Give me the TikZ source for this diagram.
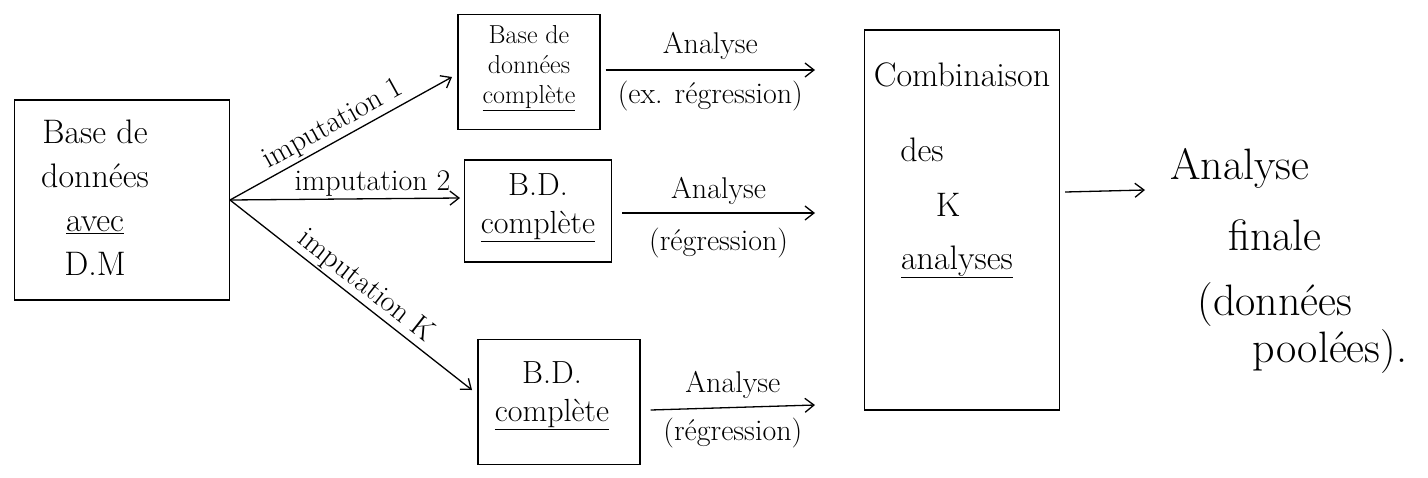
\documentclass[tikz,border=0pt]{standalone}
\usetikzlibrary{arrows.meta}
\begin{document}
\begin{tikzpicture}[x=1pt,y=-1pt,
  box/.style={draw,line width=1.4pt,inner sep=0pt},
  conn/.style={line width=1.3pt,-{Straight Barb[length=9pt,width=14pt,line width=1.3pt]}},
  txt/.style={font=\fontsize{34}{44}\selectfont,align=center},
  lbl/.style={font=\fontsize{30}{34}\selectfont,inner sep=2pt}]
\useasboundingbox (0,0) rectangle (1428,477);
% boxes
\node[box,minimum width=215pt,minimum height=200pt] (A) at (122,200) {};
\node[txt] (At) at (95,198) {Base de\\données\\\underline{avec}\\D.M};
\node[box,minimum width=142pt,minimum height=115pt] (B1) at (529,72) {};
\node[txt,font=\fontsize{26}{30}\selectfont] (B1t) at (529,68) {Base de\\données\\\underline{complète}};
\node[box,minimum width=147pt,minimum height=102pt] (B2) at (538,211) {};
\node[txt,font=\fontsize{32}{38}\selectfont] (B2t) at (538,208) {B.D.\\\underline{complète}};
\node[box,minimum width=162pt,minimum height=125pt] (B3) at (559,402) {};
\node[txt,font=\fontsize{32}{38}\selectfont] (B3t) at (552,396) {B.D.\\\underline{complète}};
\node[box,minimum width=195pt,minimum height=380pt] (C) at (962,220) {};
\node[txt] (Ct) at (962,75) {Combinaison};
\node[txt] (Cd) at (922,150) {des};
\node[txt] (Ck) at (948,205) {K};
\node[txt] (Ca) at (957,262) {\underline{analyses}};
% final text
\node[txt,font=\fontsize{44}{50}\selectfont] (F) at (1240,168) {Analyse};
\node[txt,font=\fontsize{44}{50}\selectfont] (F2) at (1275,235) {finale};
\node[txt,font=\fontsize{44}{50}\selectfont] (F3) at (1275,305) {(données};
\node[txt,font=\fontsize{44}{50}\selectfont] (F4) at (1330,352) {poolées).};
% branch point
\coordinate (S) at (230,200);
\coordinate (E1) at (452,77);
\coordinate (E2) at (460,198);
\coordinate (E3) at (472,390);
\draw[conn] (S) -- node[lbl,sloped,above,pos=0.5] {imputation 1} (E1);
\draw[conn] (S) -- node[lbl,above,pos=0.62] {imputation 2} (E2);
\draw[conn] (S) -- node[lbl,sloped,above,pos=0.52] {imputation K} (E3);
% analyses
\coordinate (R1) at (815,70);
\coordinate (R2) at (815,213);
\coordinate (R3) at (815,405);
\draw[conn] (B1.east) ++(5,-2) coordinate (L1) (L1) -- node[lbl,above=8pt] {Analyse} node[lbl,below=8pt] {(ex. régression)} (R1);
\draw[conn] (B2.east) ++(10,2) coordinate (L2) (L2) -- node[lbl,above=6pt] {Analyse} node[lbl,below=12pt] {(régression)} (R2);
\draw[conn] (B3.east) ++(10,8) coordinate (L3) (L3) -- node[lbl,above=6pt] {Analyse} node[lbl,below=8pt] {(régression)} (R3);
% final arrow
\coordinate (G) at (1145,190);
\draw[conn] (C.east) ++(5,-28) coordinate (Cg) (Cg) -- (G);
\end{tikzpicture}
\end{document}
